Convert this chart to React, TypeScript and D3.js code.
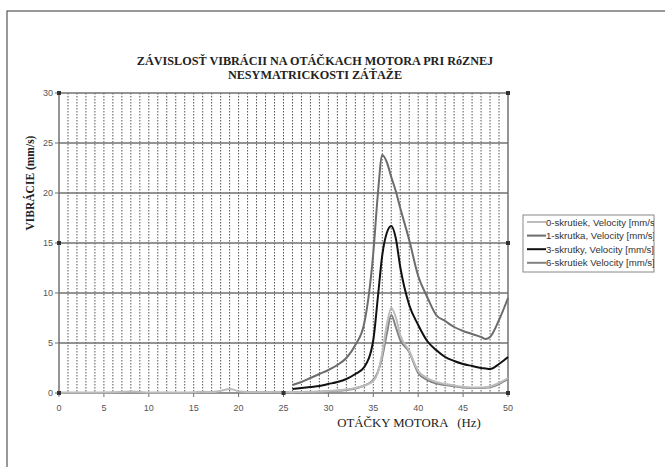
import React from "react";
import * as d3 from "d3";

const hzLow = [0,1,2,3,4,5,6,7,8,9,10,11,12,13,14,15,16,17,18,19,20,21,22,23,24,25];
const s0Low = [0.05,0.05,0.05,0.05,0.05,0.05,0.07,0.1,0.14,0.1,0.06,0.05,0.05,0.05,0.05,0.07,0.12,0.1,0.22,0.4,0.18,0.1,0.1,0.1,0.12,0.1];

const hz = [26,27,28,29,30,31,32,33,34,35,35.5,36,36.5,37,37.5,38,39,40,41,42,43,44,45,46,47,47.5,48,49,50];
const s0 = [0.08,0.1,0.12,0.15,0.2,0.25,0.35,0.5,0.75,1.2,2.0,4.0,6.8,8.5,7.6,5.8,4.2,2.2,1.5,1.1,0.9,0.75,0.62,0.55,0.55,0.58,0.65,1.0,1.5];
const s1 = [0.8,1.1,1.5,1.9,2.3,2.8,3.5,4.8,7.0,14.0,19.8,23.8,23.1,21.6,20.2,18.5,15.3,11.7,9.6,7.8,7.2,6.6,6.2,5.9,5.6,5.4,5.6,7.3,9.5];
const s3 = [0.4,0.5,0.6,0.7,0.9,1.1,1.4,1.9,2.6,5.3,9.5,13.8,16.0,16.7,15.5,12.6,8.8,6.8,5.2,4.3,3.6,3.2,2.9,2.7,2.5,2.45,2.4,2.9,3.6];
const s6 = [0.05,0.08,0.1,0.12,0.18,0.22,0.3,0.45,0.75,1.3,2.1,3.6,5.9,7.8,6.6,5.3,4.1,2.0,1.3,0.95,0.8,0.68,0.55,0.5,0.5,0.52,0.58,0.9,1.4];

const seriesNames = ["0-skrutiek, Velocity [mm/s]", "1-skrutka, Velocity [mm/s]", "3-skrutky, Velocity [mm/s]", "6-skrutiek Velocity [mm/s]"];
const seriesColors = ["#bcbcbc", "#6c6c6c", "#111111", "#828282"];
const xTicks = [0,5,10,15,20,25,30,35,40,45,50];
const yTicks = [0,5,10,15,20,25,30];

export default function App() {
  const W = 665, H = 467;
  const x = d3.scaleLinear().domain([0, 50]).range([59, 508]);
  const y = d3.scaleLinear().domain([0, 30]).range([393, 93]);
  const line = d3.line<[number, number]>().x(d => x(d[0])).y(d => y(d[1])).curve(d3.curveMonotoneX);

  const series: [number, number][][] = [
    [...hzLow.map((h, i) => [h, s0Low[i]] as [number, number]), ...hz.map((h, i) => [h, s0[i]] as [number, number])],
    hz.map((h, i) => [h, s1[i]] as [number, number]),
    hz.map((h, i) => [h, s3[i]] as [number, number]),
    hz.map((h, i) => [h, s6[i]] as [number, number]),
  ];
  const drawOrder = [3, 0, 2, 1];
  const minor = d3.range(1, 50);
  const handles: [number, number][] = [[0,30],[0,15],[0,0],[25,0],[50,0],[50,15],[50,30]];

  return (
    <svg width={W} height={H} style={{ position: "absolute", left: 0, top: 0, background: "#fff" }}>
      <defs>
        <clipPath id="legclip"><rect x={523} y={215} width={131} height={57} /></clipPath>
      </defs>
      <rect x={7} y={11} width={700} height={500} fill="#fff" stroke="#555" strokeWidth={1.2} />
      <text x={315} y={65} textAnchor="middle" fontFamily="Liberation Serif" fontSize={12.2} fontWeight="bold" fill="#222">ZÁVISLOSŤ VIBRÁCII NA OTÁČKACH MOTORA PRI RóZNEJ</text>
      <text x={315} y={79} textAnchor="middle" fontFamily="Liberation Serif" fontSize={12.2} fontWeight="bold" fill="#222">NESYMATRICKOSTI ZÁŤAŽE</text>

      {minor.map(v => (
        <line key={"m" + v} x1={x(v)} x2={x(v)} y1={y(30)} y2={y(0)} stroke="#555" strokeWidth={1} strokeDasharray="1.5,1.5" />
      ))}
      {yTicks.map(v => (
        <line key={"g" + v} x1={x(0)} x2={x(50)} y1={y(v)} y2={y(v)} stroke="#707070" strokeWidth={1.5} />
      ))}
      <line x1={x(0)} x2={x(0)} y1={y(30)} y2={y(0)} stroke="#707070" strokeWidth={1.5} />
      <line x1={x(50)} x2={x(50)} y1={y(30)} y2={y(0)} stroke="#707070" strokeWidth={1.5} />
      {xTicks.map(v => (
        <line key={"xt" + v} x1={x(v)} x2={x(v)} y1={y(0)} y2={y(0) + 4} stroke="#707070" strokeWidth={1} />
      ))}
      {yTicks.map(v => (
        <line key={"yt" + v} x1={x(0) - 4} x2={x(0)} y1={y(v)} y2={y(v)} stroke="#707070" strokeWidth={1} />
      ))}

      {drawOrder.map(i => (
        <path key={"s" + i} d={line(series[i]) || ""} fill="none" stroke={seriesColors[i]} strokeWidth={2} />
      ))}

      {handles.map(([a, b], i) => (
        <rect key={"h" + i} x={x(a) - 2} y={y(b) - 2} width={4} height={4} fill="#333" />
      ))}

      {xTicks.map(v => (
        <text key={"xl" + v} x={x(v)} y={411} textAnchor="middle" fontFamily="Liberation Sans" fontSize={9} fill="#555">{v}</text>
      ))}
      {yTicks.map(v => (
        <text key={"yl" + v} x={53} y={y(v) + 3} textAnchor="end" fontFamily="Liberation Sans" fontSize={9} fill="#555">{v}</text>
      ))}

      <text x={409} y={427} textAnchor="middle" fontFamily="Liberation Serif" fontSize={12.8} fill="#222" xmlSpace="preserve">OTÁČKY MOTORA   (Hz)</text>
      <text transform="translate(34,183) rotate(-90)" textAnchor="middle" fontFamily="Liberation Serif" fontSize={11.5} fontWeight="bold" fill="#222">VIBRÁCIE (mm/s)</text>

      <rect x={523} y={215} width={131} height={57} fill="#fff" stroke="#888" strokeWidth={1} />
      <g clipPath="url(#legclip)">
        {seriesNames.map((n, i) => (
          <g key={"l" + i}>
            <line x1={527} x2={546} y1={222 + i * 13.6} y2={222 + i * 13.6} stroke={seriesColors[i]} strokeWidth={2} />
            <text x={546} y={225.5 + i * 13.6} fontFamily="Liberation Sans" fontSize={9.6} fill="#333">{n}</text>
          </g>
        ))}
      </g>
    </svg>
  );
}
